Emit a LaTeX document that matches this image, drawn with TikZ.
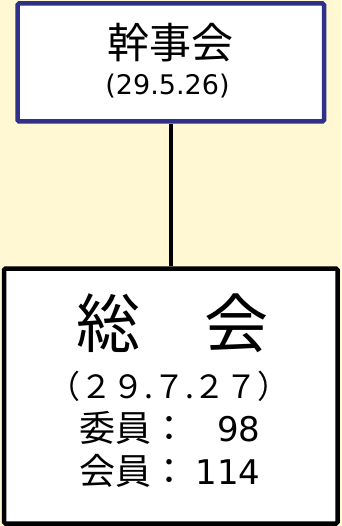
\documentclass[tikz,border=0pt]{standalone}
\usepackage{fontspec}
\setmainfont{Noto Sans CJK JP}
\newfontfamily\digitfont{DejaVu Sans}
\usepackage{tikz}
\usetikzlibrary{positioning}
\definecolor{bgyellow}{RGB}{255,248,210}
\definecolor{boxnavy}{RGB}{46,49,135}

\begin{document}
\begin{tikzpicture}[x=1pt,y=-1pt,
            box/.style={shape=rectangle, draw, line width=4.5pt, fill=white, rounded corners=1.5pt, inner sep=0pt},
            txt/.style={inner sep=0pt}]
        \fill[bgyellow] (0,0) rectangle (341,526);
        \useasboundingbox (0,0) rectangle (341,526);

        \node[box, draw=boxnavy, minimum width=306.5pt, minimum height=118pt] (kanjikai) at (170.75,62.5) {};
        \node[box, draw=black, minimum width=333.5pt, minimum height=255pt] (sokai) at (170.75,396) {};

        \draw[line width=4.5pt] (kanjikai.south) -- (sokai.north);

        \node[txt, font=\fontsize{42}{42}\selectfont] (kanjiname) at (170,42.5) {幹事会};
        \node[txt, font=\digitfont\fontsize{27}{27}\selectfont] (kanjidate) at (167.5,86.5) {(29.5.26)};

        \node[txt, font=\fontsize{64}{64}\selectfont] (sokainame) at (172,323.5) {総　会};
        \node[txt, font=\fontsize{32}{32}\selectfont] (sokaidate) at (169,386.5) {（２９.７.２７）};
        \node[txt, font=\fontsize{36}{36}\selectfont] (iin) at (170,427.5) {委員：\hspace{8pt}{\digitfont\fontsize{34}{34}\selectfont\phantom{1}98}};
        \node[txt, font=\fontsize{36}{36}\selectfont] (kaiin) at (170,471) {会員：\hspace{8pt}{\digitfont\fontsize{34}{34}\selectfont 114}};
    \end{tikzpicture}
\end{document}
